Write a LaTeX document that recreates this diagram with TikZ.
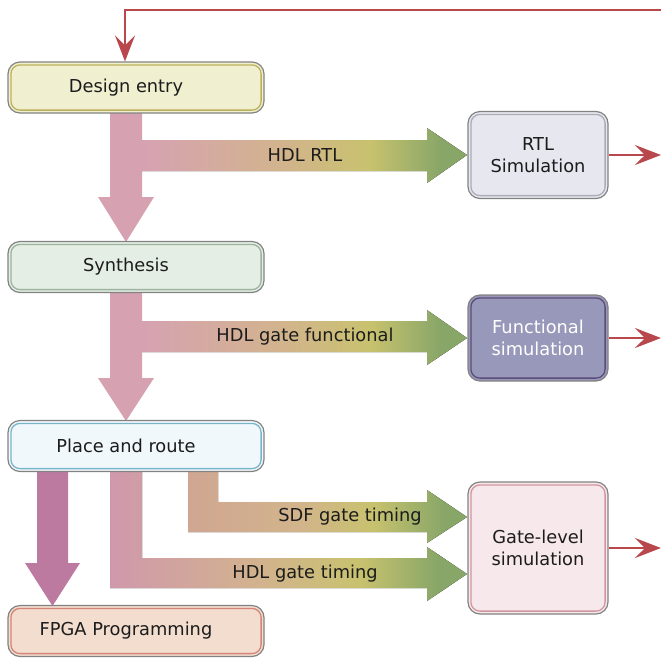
\documentclass[tikz,border=0pt]{standalone}
\usepackage{fontspec}
\setmainfont{DejaVu Sans}
\usepackage{xcolor}
\usepackage{tikz}
\usetikzlibrary{arrows.meta}
\usetikzlibrary{shapes}

\definecolor{fbred}{RGB}{184,72,76}
\definecolor{framegray}{RGB}{130,130,130}
\definecolor{flowpink}{RGB}{214,162,178}
\definecolor{flowrose}{RGB}{208,152,172}
\definecolor{flowmauve}{RGB}{188,122,160}
\definecolor{flowtan}{RGB}{208,166,146}
\definecolor{flowbeige}{RGB}{210,180,140}
\definecolor{flowolive}{RGB}{200,194,110}
\definecolor{flowgreen}{RGB}{136,166,104}
\definecolor{txtgray}{RGB}{28,28,28}

\definecolor{designfill}{RGB}{240,240,208}
\definecolor{designline}{RGB}{188,178,92}
\definecolor{synthfill}{RGB}{228,238,228}
\definecolor{synthline}{RGB}{158,178,160}
\definecolor{rtlfill}{RGB}{231,231,239}
\definecolor{rtlline}{RGB}{172,172,182}
\definecolor{funcfill}{RGB}{152,152,186}
\definecolor{funcline}{RGB}{92,76,122}
\definecolor{placefill}{RGB}{241,248,251}
\definecolor{placeline}{RGB}{122,180,200}
\definecolor{gatefill}{RGB}{247,233,235}
\definecolor{gateline}{RGB}{210,150,160}
\definecolor{fpgafill}{RGB}{243,221,206}
\definecolor{fpgaline}{RGB}{212,132,120}

% pink -> beige -> olive -> green, stretched over 25bp..75bp
\pgfdeclarehorizontalshading{pinkflow}{100bp}{color(0bp)=(flowpink); color(25bp)=(flowpink);
  color(47bp)=(flowbeige); color(60bp)=(flowolive); color(71bp)=(flowgreen); color(100bp)=(flowgreen)}
\pgfdeclarehorizontalshading{roseflow}{100bp}{color(0bp)=(flowrose); color(25bp)=(flowrose);
  color(47bp)=(flowbeige); color(60bp)=(flowolive); color(71bp)=(flowgreen); color(100bp)=(flowgreen)}
\pgfdeclarehorizontalshading{tanflow}{100bp}{color(0bp)=(flowtan); color(25bp)=(flowtan);
  color(45bp)=(flowbeige); color(58bp)=(flowolive); color(71bp)=(flowgreen); color(100bp)=(flowgreen)}

\tikzset{
  stage/.style={draw=framegray, line width=1.2pt, rounded corners=12pt,
    minimum width=256pt, minimum height=51pt, inner sep=0pt, text=txtgray,
    execute at end node={\hspace*{20pt}}},
  simbox/.style={draw=framegray, line width=1.2pt, rounded corners=12pt,
    minimum width=140pt, inner sep=0pt, align=center, text=txtgray},
  flowlabel/.style={text=txtgray, inner sep=0pt},
  fbline/.style={fbred, line width=2pt, -{Stealth[length=26pt, width=20pt, inset=10pt]}}
}

\begin{document}
\begin{tikzpicture}[x=1pt, y=-1pt, font=\fontsize{17.8pt}{22pt}\selectfont]
        \useasboundingbox (0,0) rectangle (661,657);

        % flow arrows
        \fill[flowpink] (110,112) -- (110,197) -- (98,197) -- (126,242)
            -- (154,197) -- (142,197) -- (142,112) -- cycle;
        \fill[shading=pinkflow]
            (142,140) -- (427,140) -- (427,128) -- (467,155) -- (427,183)
            -- (427,171) -- (142,171) -- cycle;
        \fill[flowpink] (110,292) -- (110,378) -- (98,378) -- (126,421)
            -- (154,378) -- (142,378) -- (142,292) -- cycle;
        \fill[shading=pinkflow]
            (142,321) -- (427,321) -- (427,310) -- (467,338) -- (427,365)
            -- (427,352) -- (142,352) -- cycle;
        \fill[flowmauve] (37,471) -- (37,563) -- (25,563) -- (52.5,606)
            -- (80,563) -- (68,563) -- (68,471) -- cycle;
        \fill[shading=tanflow]
            (188,471) -- (188,532) -- (427,532) -- (427,543) -- (467,517)
            -- (427,490) -- (427,502) -- (218,502) -- (218,471) -- cycle;
        \fill[shading=roseflow]
            (110,471) -- (110,588) -- (427,588) -- (427,601) -- (467,574)
            -- (427,547) -- (427,558) -- (142,558) -- (142,471) -- cycle;

        \node[flowlabel] (lrtl) at (305,155) {HDL RTL};
        \node[flowlabel] (lfunc) at (305,337) {HDL gate functional};
        \node[flowlabel] (lsdf) at (350,517) {SDF gate timing};
        \node[flowlabel] (lgate) at (305,574) {HDL gate timing};

        % stages
        \node[stage, fill=designfill] (design) at (136,87.5) {Design entry};
        \node[stage, fill=synthfill] (synth) at (136,267) {Synthesis};
        \node[stage, fill=placefill] (place) at (136,446) {Place and route};
        \node[stage, fill=fpgafill] (fpga) at (136,631) {FPGA Programming};

        \node[simbox, fill=rtlfill, minimum height=87pt] (rtl) at (538,155) {RTL\\Simulation};
        \node[simbox, fill=funcfill, minimum height=86pt, text=white] (func) at (538,338) {Functional\\simulation};
        \node[simbox, fill=gatefill, minimum height=132pt] (gate) at (538,548) {Gate-level\\simulation};

        \foreach \n/\c in {design/designline, synth/synthline, place/placeline,
            fpga/fpgaline, rtl/rtlline, func/funcline, gate/gateline}
            \draw[\c, line width=1.3pt, rounded corners=9pt]
                ([shift={(3.5pt,3.5pt)}]\n.south west) rectangle ([shift={(-3.5pt,-3.5pt)}]\n.north east);

        % outputs and feedback
        \coordinate (rtlout) at (661,155);
        \coordinate (funcout) at (661,338);
        \coordinate (gateout) at (661,548);
        \coordinate (fbstart) at (661,10);
        \coordinate (fbcorner) at (125,10);

        \draw[fbline] (rtl.east) -- (rtlout);
        \draw[fbline] (func.east) -- (funcout);
        \draw[fbline] (gate.east) -- (gateout);
        \draw[fbline] (fbstart) -- (fbcorner) -- (fbcorner |- design.north);
\end{tikzpicture}
\end{document}
